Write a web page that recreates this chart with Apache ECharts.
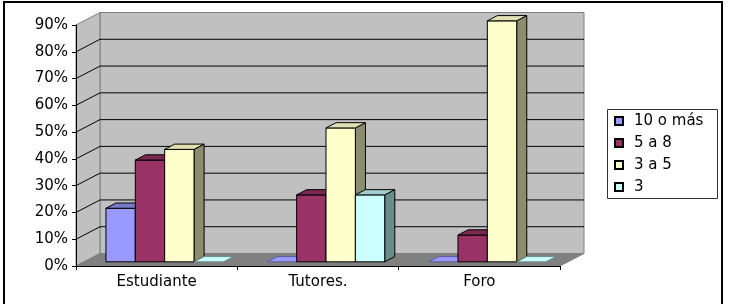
<!DOCTYPE html>
<html><head><meta charset="utf-8">
<script src="https://cdn.jsdelivr.net/npm/echarts@6/dist/echarts.min.js"></script>
</head><body style="margin:0;background:#fff">
<div id="c" style="width:730px;height:304px"></div>
<script>
// ---- data ----
const categories = ['Estudiante', 'Tutores.', 'Foro'];
const seriesNames = ['10 o más', '5 a 8', '3 a 5', '3'];
const s10oMas = [0.20, 0, 0];
const s5a8 = [0.38, 0.25, 0.10];
const s3a5 = [0.42, 0.50, 0.90];
const s3 = [0, 0.25, 0];
const yTicks = [0, 0.1, 0.2, 0.3, 0.4, 0.5, 0.6, 0.7, 0.8, 0.9];

// ---- style ----
const DX = 24, DY = -12.5;      // depth projection of the 3D box
const F1 = 1 / 3, F2 = 0.42;    // bar front depth, bar depth
const BARW = 0.182;             // bar width as fraction of category band
const FONT = 'DejaVu Sans';
const FS = 15;
const palette = [
  { front: '#9999FF', top: '#7a7acc', side: '#5c5c99' },
  { front: '#993366', top: '#7a2952', side: '#5c1f3d' },
  { front: '#FFFFCC', top: '#e0e0b3', side: '#8c8c6e' },
  { front: '#CCFFFF', top: '#a3cccc', side: '#6b8c8c' }
];
const allSeries = [s10oMas, s5a8, s3a5, s3];

function barRenderer(sIdx) {
  const c = palette[sIdx];
  return function (params, api) {
    const i = api.value(0), v = api.value(1);
    const base = api.coord([i, 0]);
    const topP = api.coord([i, v]);
    const band = api.size([1, 0])[0];
    const w = band * BARW;
    const x0 = base[0] - 2 * w + sIdx * w + DX * F1;
    const yb = base[1] + DY * F1;
    const yt = topP[1] + DY * F1;
    const ddx = DX * F2, ddy = DY * F2;
    const st = { stroke: '#000', lineWidth: 1, lineJoin: 'round' };
    const ch = [];
    if (v > 0) {
      ch.push({ type: 'polygon', shape: { points: [[x0 + w, yt], [x0 + w + ddx, yt + ddy], [x0 + w + ddx, yb + ddy], [x0 + w, yb]] },
        style: Object.assign({ fill: c.side }, st) });
      ch.push({ type: 'rect', shape: { x: x0, y: yt, width: w, height: yb - yt }, style: Object.assign({ fill: c.front }, st) });
      ch.push({ type: 'polygon', shape: { points: [[x0, yt], [x0 + ddx, yt + ddy], [x0 + w + ddx, yt + ddy], [x0 + w, yt]] },
        style: Object.assign({ fill: c.top }, st) });
    } else {
      ch.push({ type: 'polygon', shape: { points: [[x0, yt], [x0 + ddx, yt + ddy], [x0 + w + ddx, yt + ddy], [x0 + w, yt]] },
        style: { fill: c.front, stroke: c.side, lineWidth: 1 } });
    }
    return { type: 'group', children: ch };
  };
}

function frameRenderer(params, api) {
  const band = api.size([1, 0])[0];
  const xl = api.coord([0, 0])[0] - band / 2;
  const xr = api.coord([categories.length - 1, 0])[0] + band / 2;
  const y0 = api.coord([0, 0])[1];
  const yTop = api.coord([0, yTicks[yTicks.length - 1]])[1];
  const ch = [];
  ch.push({ type: 'polygon', shape: { points: [[xl + DX, yTop + DY], [xr + DX, yTop + DY], [xr + DX, y0 + DY], [xl + DX, y0 + DY]] },
    style: { fill: '#c0c0c0', stroke: '#808080', lineWidth: 1 } });
  ch.push({ type: 'polygon', shape: { points: [[xl, yTop], [xl + DX, yTop + DY], [xl + DX, y0 + DY], [xl, y0]] },
    style: { fill: '#c0c0c0', stroke: '#808080', lineWidth: 1 } });
  ch.push({ type: 'polygon', shape: { points: [[xl, y0], [xl + DX, y0 + DY], [xr + DX, y0 + DY], [xr, y0]] },
    style: { fill: '#808080', stroke: '#808080', lineWidth: 1 } });
  yTicks.forEach(function (t, k) {
    if (k === 0 || k === yTicks.length - 1) return;
    const y = api.coord([0, t])[1];
    ch.push({ type: 'polyline', shape: { points: [[xl, y], [xl + DX, y + DY], [xr + DX, y + DY]] },
      style: { stroke: '#000', lineWidth: 1, fill: null } });
  });
  return { type: 'group', children: ch };
}

const chart = echarts.init(document.getElementById('c'), null, { renderer: 'canvas' });
const series = [{
  type: 'custom', name: '_frame', z: 1, silent: true,
  renderItem: frameRenderer, data: [[0, 0]], encode: { x: 0, y: 1 }
}];
seriesNames.forEach(function (n, s) {
  series.push({
    type: 'custom', name: n, z: 3 + s,
    renderItem: barRenderer(s),
    itemStyle: { color: palette[s].front, borderColor: '#000', borderWidth: 1 },
    encode: { x: 0, y: 1 },
    data: allSeries[s].map(function (v, i) { return [i, v]; })
  });
});

chart.setOption({
  animation: false,
  backgroundColor: '#fff',
  grid: { left: 76, right: 170, top: 25, bottom: 38, containLabel: false },
  xAxis: {
    type: 'category', data: categories, z: 10,
    axisLine: { lineStyle: { color: '#000', width: 1 } },
    axisTick: { show: true, length: 4, interval: 0, lineStyle: { color: '#000' } },
    axisLabel: { color: '#000', fontFamily: FONT, fontSize: FS, margin: 9 },
    splitLine: { show: false }
  },
  yAxis: {
    type: 'value', min: 0, max: 0.9, interval: 0.1, z: 10,
    axisLine: { show: true, lineStyle: { color: '#000', width: 1 } },
    axisTick: { show: true, length: 4, lineStyle: { color: '#000' } },
    axisLabel: { color: '#000', fontFamily: FONT, fontSize: FS, margin: 8,
      formatter: function (v) { return Math.round(v * 100) + '%'; } },
    splitLine: { show: false }
  },
  legend: {
    data: seriesNames, orient: 'vertical', left: 614, top: 113, padding: 0,
    itemWidth: 8, itemHeight: 8, itemGap: 6, icon: 'rect', selectedMode: false,
    textStyle: { color: '#000', fontFamily: FONT, fontSize: FS, lineHeight: 16, padding: [0, 0, 0, 6] }
  },
  graphic: [
    { type: 'rect', shape: { x: 4, y: 2, width: 718, height: 320 }, style: { fill: null, stroke: '#000', lineWidth: 2 }, silent: true, z: 100 },
    { type: 'rect', shape: { x: 607.5, y: 109.5, width: 110, height: 89 }, style: { fill: null, stroke: '#333', lineWidth: 1 }, silent: true, z: 100 }
  ],
  series: series
});
</script>
</body></html>
